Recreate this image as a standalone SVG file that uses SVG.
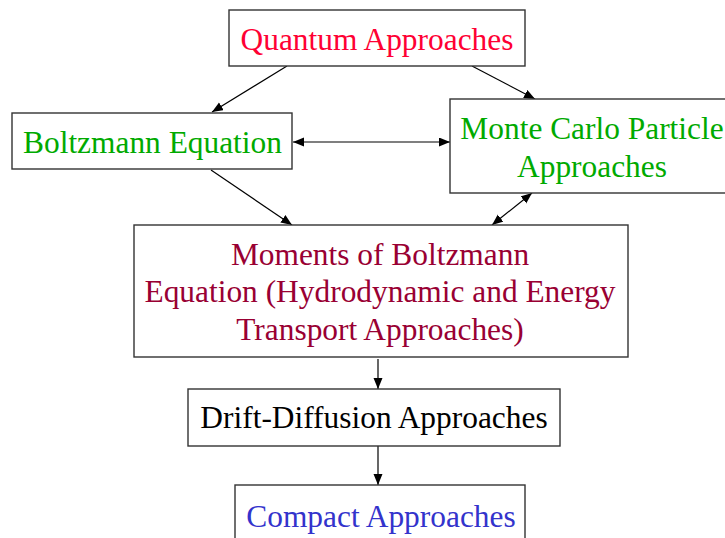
<svg xmlns="http://www.w3.org/2000/svg" width="725" height="538" viewBox="0 0 725 538">
<defs>
<marker id="ah" markerUnits="userSpaceOnUse" markerWidth="12" markerHeight="10" refX="11" refY="4.5" orient="auto-start-reverse">
<path d="M0,0 L11,4.5 L0,9 z" fill="#000"/>
</marker>
<style>
.box{fill:#fff;stroke:#333;stroke-width:1.4}
.t{font-family:"Liberation Serif","Times New Roman",serif;font-size:31.4px;text-anchor:middle}
.c{stroke:#000;stroke-width:1.2;fill:none;marker-end:url(#ah)}
.cc{stroke:#000;stroke-width:1.2;fill:none;marker-end:url(#ah);marker-start:url(#ah)}
</style>
</defs>
<rect width="725" height="538" fill="#fff"/>
<g id="connectors">
<line class="c" x1="287" y1="66" x2="212" y2="112"/>
<line class="c" x1="472" y1="66" x2="535" y2="99"/>
<line class="cc" x1="293" y1="142" x2="450" y2="142"/>
<line class="c" x1="211" y1="170" x2="292" y2="225"/>
<line class="cc" x1="532" y1="193" x2="492" y2="225"/>
<line class="c" x1="378" y1="359" x2="378" y2="389"/>
<line class="c" x1="378" y1="446" x2="378" y2="485"/>
</g>
<g id="quantum">
<rect class="box" x="229" y="10" width="296" height="56"/>
<text class="t" x="377" y="50" fill="#ff0033">Quantum Approaches</text>
</g>
<g id="boltzmann">
<rect class="box" x="12" y="113" width="280" height="56"/>
<text class="t" x="152.5" y="153" fill="#00aa00">Boltzmann Equation</text>
</g>
<g id="montecarlo">
<rect class="box" x="450" y="99" width="290" height="94"/>
<text class="t" x="592" y="139" fill="#00aa00">Monte Carlo Particle</text>
<text class="t" x="592" y="177" fill="#00aa00">Approaches</text>
</g>
<g id="moments">
<rect class="box" x="134" y="225" width="494" height="132"/>
<text class="t" x="380" y="265" fill="#990033">Moments of Boltzmann</text>
<text class="t" x="380" y="302" fill="#990033">Equation (Hydrodynamic and Energy</text>
<text class="t" x="380" y="340" fill="#990033">Transport Approaches)</text>
</g>
<g id="drift">
<rect class="box" x="188" y="389" width="372" height="57"/>
<text class="t" x="374" y="428" fill="#000">Drift-Diffusion Approaches</text>
</g>
<g id="compact">
<rect class="box" x="235" y="485" width="290" height="70"/>
<text class="t" x="381" y="527" fill="#3333cc">Compact Approaches</text>
</g>
</svg>
